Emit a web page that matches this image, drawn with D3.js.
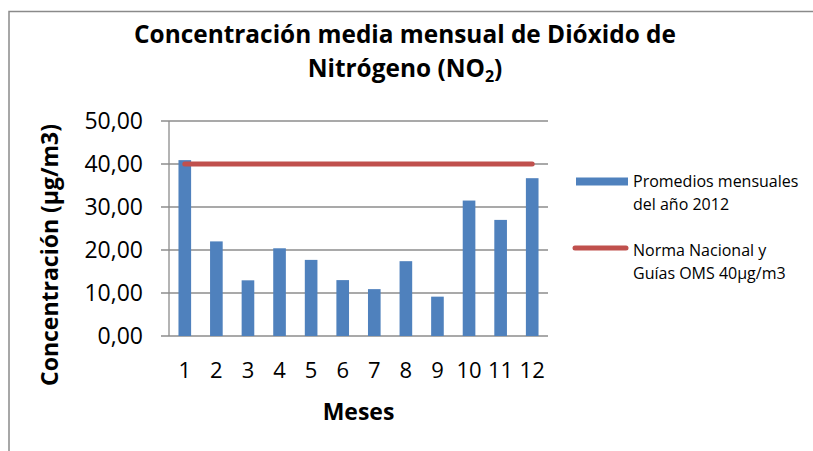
<!DOCTYPE html>
<html>
<head>
<meta charset="utf-8">
<script src="https://cdn.jsdelivr.net/npm/d3@7"></script>
<style>
  body { margin: 0; background: #fff; overflow: hidden; }
  svg { display: block; font-family: "Open Sans", Lato, sans-serif; }
</style>
</head>
<body>
<div id="chart"></div>
<script>
const months = ["1", "2", "3", "4", "5", "6", "7", "8", "9", "10", "11", "12"];
const monthlyMeans = [40.9, 22.0, 12.95, 20.4, 17.7, 13.0, 10.9, 17.4, 9.15, 31.5, 27.0, 36.7];
const guideline = 40;
const yTicks = [0, 10, 20, 30, 40, 50];
const legendLabels = [["Promedios mensuales", "del año 2012"], ["Norma Nacional y", "Guías OMS 40µg/m3"]];

const width = 813, height = 451;
const plot = { left: 169, right: 548, top: 121, bottom: 336 };
const barColor = "#4f81bd", lineColor = "#c0504d", gridColor = "#8c8c8c";

const svg = d3.select("#chart").append("svg").attr("width", width).attr("height", height);

// chart frame (only top and left edges show)
svg.append("path").attr("d", `M9,${height} V11.5 H${width}`).attr("fill", "none")
  .attr("stroke", "#8a8a8a").attr("stroke-width", 1.5);

const x = d3.scaleBand().domain(months).range([plot.left, plot.right]).paddingInner(0.6).paddingOuter(0.3);
const y = d3.scaleLinear().domain([0, 50]).range([plot.bottom, plot.top]);

// gridlines
svg.append("g").selectAll("line").data(yTicks).join("line")
  .attr("x1", plot.left - 8).attr("x2", plot.right)
  .attr("y1", (d) => y(d)).attr("y2", (d) => y(d))
  .attr("stroke", gridColor).attr("stroke-width", 1.3);

svg.append("line").attr("x1", plot.left).attr("x2", plot.left)
  .attr("y1", plot.top).attr("y2", plot.bottom).attr("stroke", gridColor).attr("stroke-width", 1.3);

// y tick labels
svg.append("g").selectAll("text").data(yTicks).join("text")
  .attr("x", 143).attr("y", (d) => y(d)).attr("dy", "0.36em")
  .attr("text-anchor", "end").attr("font-size", 23).attr("fill", "#000")
  .text((d) => d3.format(".2f")(d).replace(".", ","));

// bars
svg.append("g").selectAll("rect").data(monthlyMeans).join("rect")
  .attr("x", (d, i) => x(months[i])).attr("width", x.bandwidth())
  .attr("y", (d) => y(d)).attr("height", (d) => y(0) - y(d))
  .attr("fill", barColor);

// guideline series
const lineGen = d3.line().x((d) => x(d) + x.bandwidth() / 2).y(() => y(guideline));
svg.append("path").attr("d", lineGen(months)).attr("fill", "none")
  .attr("stroke", lineColor).attr("stroke-width", 5).attr("stroke-linecap", "round");

// x tick labels
svg.append("g").selectAll("text").data(months).join("text")
  .attr("x", (d) => x(d) + x.bandwidth() / 2).attr("y", 378)
  .attr("text-anchor", "middle").attr("font-size", 22).text((d) => d);

// axis titles
svg.append("text").attr("x", (plot.left + plot.right) / 2).attr("y", 420)
  .attr("text-anchor", "middle").attr("font-size", 23).attr("font-weight", "bold").text("Meses");
svg.append("text").attr("transform", "translate(58,255) rotate(-90)")
  .attr("text-anchor", "middle").attr("font-size", 23).attr("font-weight", "bold")
  .text("Concentración (µg/m3)");

// title
const title = svg.append("g").attr("font-weight", "bold").attr("font-size", 24.4).attr("text-anchor", "middle");
title.append("text").attr("x", 405).attr("y", 43).text("Concentración media mensual de Dióxido de");
const t2 = title.append("text").attr("x", 405).attr("y", 77);
t2.append("tspan").text("Nitrógeno (NO");
t2.append("tspan").attr("font-size", 16).attr("dy", 5).text("2");
t2.append("tspan").attr("dy", -5).text(")");

// legend
const legend = svg.append("g").attr("font-size", 16);
legend.append("rect").attr("x", 576).attr("y", 177.5).attr("width", 52).attr("height", 8).attr("fill", barColor);
legend.append("line").attr("x1", 575).attr("x2", 626).attr("y1", 248).attr("y2", 248)
  .attr("stroke", lineColor).attr("stroke-width", 5).attr("stroke-linecap", "round");
const legendY = [187, 256];
legendLabels.forEach((lines, i) => {
  lines.forEach((line, j) => {
    legend.append("text").attr("x", 633).attr("y", legendY[i] + j * 23).text(line);
  });
});
</script>
</body>
</html>
